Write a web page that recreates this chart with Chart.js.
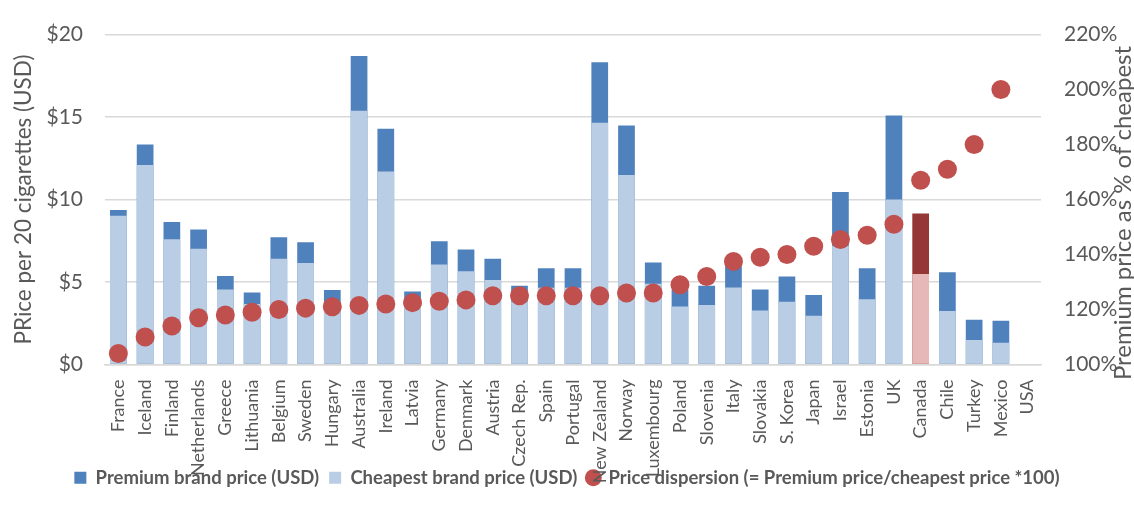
<!DOCTYPE html>
<html>
<head>
<meta charset="utf-8">
<script src="https://cdn.jsdelivr.net/npm/chart.js@4.4.1/dist/chart.umd.min.js"></script>
<style>
  html, body { margin: 0; padding: 0; background: #fff; }
  #wrap { width: 1134px; height: 508px; }
</style>
</head>
<body>
<div id="wrap"><canvas id="prices"></canvas></div>
<script>
// Cigarette prices per country, sorted by price dispersion
const countries = ['France', 'Iceland', 'Finland', 'Netherlands', 'Greece', 'Lithuania', 'Belgium', 'Sweden',
  'Hungary', 'Australia', 'Ireland', 'Latvia', 'Germany', 'Denmark', 'Austria', 'Czech Rep.', 'Spain',
  'Portugal', 'New Zealand', 'Norway', 'Luxembourg', 'Poland', 'Slovenia', 'Italy', 'Slovakia', 'S. Korea',
  'Japan', 'Israel', 'Estonia', 'UK', 'Canada', 'Chile', 'Turkey', 'Mexico', 'USA'];

const premium = [9.36, 13.33, 8.64, 8.18, 5.37, 4.37, 7.71, 7.41, 4.51, 18.70, 14.29, 4.43, 7.47, 6.97, 6.41,
  4.77, 5.83, 5.83, 18.32, 14.49, 6.19, 4.55, 4.77, 6.42, 4.55, 5.33, 4.21, 10.46, 5.83, 15.09, 9.16, 5.59,
  2.71, 2.65, null];

const cheapest = [9.02, 12.09, 7.60, 7.01, 4.55, 3.67, 6.41, 6.15, 3.73, 15.39, 11.70, 3.62, 6.07, 5.65, 5.13,
  3.82, 4.65, 4.65, 14.65, 11.49, 4.89, 3.52, 3.61, 4.67, 3.27, 3.81, 2.95, 7.19, 3.95, 10.00, 5.49, 3.25,
  1.48, 1.32, null];

const dispersion = [104, 110, 114, 117, 118, 119, 120, 120.5, 121, 121.5, 122, 122.5, 123, 123.5, 125, 125,
  125, 125, 125, 126, 126, 129, 132, 137.5, 139, 140, 143, 145.5, 147, 151, 167, 171, 180, 200, null];

const highlight = 'Canada';
const premiumColors = countries.map(c => c === highlight ? '#953735' : '#4F81BD');
const cheapestColors = countries.map(c => c === highlight ? '#E6B9B8' : '#B9CDE5');

const FONT = 'Lato, "Open Sans", sans-serif';
const GREY = '#595959';

// right-hand axis title reads bottom to top, so it is drawn by hand
const rightTitle = {
  id: 'rightTitle',
  afterDraw(chart) {
    const ctx = chart.ctx;
    ctx.save();
    ctx.translate(1123, 213);
    ctx.rotate(-Math.PI / 2);
    ctx.font = '24px ' + FONT;
    ctx.fillStyle = GREY;
    ctx.textAlign = 'center';
    ctx.textBaseline = 'middle';
    ctx.fillText('Premium price as % of cheapest', 0, 0);
    ctx.restore();
  }
};

const ctx = document.getElementById('prices').getContext('2d');
const chart = new Chart(ctx, {
  data: {
    labels: countries,
    datasets: [{
      type: 'bar',
      label: 'Premium brand price (USD)',
      data: premium,
      backgroundColor: premiumColors,
      grouped: false,
      barPercentage: 0.625,
      categoryPercentage: 1,
      pointStyle: 'rect',
      yAxisID: 'y',
      order: 3
    }, {
      type: 'bar',
      label: 'Cheapest brand price (USD)',
      data: cheapest,
      backgroundColor: cheapestColors,
      grouped: false,
      barPercentage: 0.625,
      categoryPercentage: 1,
      pointStyle: 'rect',
      yAxisID: 'y',
      order: 2
    }, {
      type: 'line',
      label: 'Price dispersion (= Premium price/cheapest price *100)',
      data: dispersion,
      showLine: false,
      pointStyle: 'circle',
      pointRadius: 9.5,
      pointHoverRadius: 9.5,
      pointBackgroundColor: '#C0504D',
      pointBorderWidth: 0,
      backgroundColor: '#C0504D',
      borderColor: '#C0504D',
      yAxisID: 'y1',
      order: 1
    }]
  },
  options: {
    responsive: true,
    maintainAspectRatio: false,
    animation: false,
    layout: { padding: { top: 27, right: 0, bottom: 11, left: 0 } },
    plugins: {
      tooltip: { enabled: false },
      legend: {
        position: 'bottom',
        labels: {
          usePointStyle: true,
          boxWidth: 12,
          boxHeight: 12,
          padding: 10,
          color: GREY,
          font: { family: FONT, size: 18.5, weight: 'bold' },
          sort: (a, b) => a.datasetIndex - b.datasetIndex
        }
      }
    },
    scales: {
      x: {
        grid: { display: false },
        border: { color: '#D9D9D9', width: 1.5 },
        ticks: {
          autoSkip: false,
          minRotation: 90,
          maxRotation: 90,
          padding: 7,
          color: GREY,
          font: { family: FONT, size: 18 }
        },
        afterFit: (scale) => {
          scale.height = 94;
          // long country names run into the legend, so don't clip them to the axis box
          scale._computeLabelArea = () => undefined;
        }
      },
      y: {
        position: 'left',
        min: 0,
        max: 20,
        grid: { color: '#D9D9D9', lineWidth: 1.5, drawTicks: false },
        border: { display: false },
        ticks: {
          stepSize: 5,
          padding: 22,
          color: GREY,
          font: { family: FONT, size: 21 },
          callback: v => '$' + v
        },
        title: {
          display: true,
          text: 'PRice per 20 cigarettes (USD)',
          color: GREY,
          font: { family: FONT, size: 22.5 },
          padding: { top: 10, bottom: 0 }
        },
        afterFit: (scale) => { scale.width = 105; }
      },
      y1: {
        position: 'right',
        min: 100,
        max: 220,
        grid: { display: false },
        border: { display: false },
        ticks: {
          stepSize: 20,
          padding: 15,
          color: GREY,
          font: { family: FONT, size: 21 },
          callback: v => v + '%'
        },
        afterFit: (scale) => { scale.width = 93; }
      }
    }
  },
  plugins: [rightTitle]
});
</script>
</body>
</html>
